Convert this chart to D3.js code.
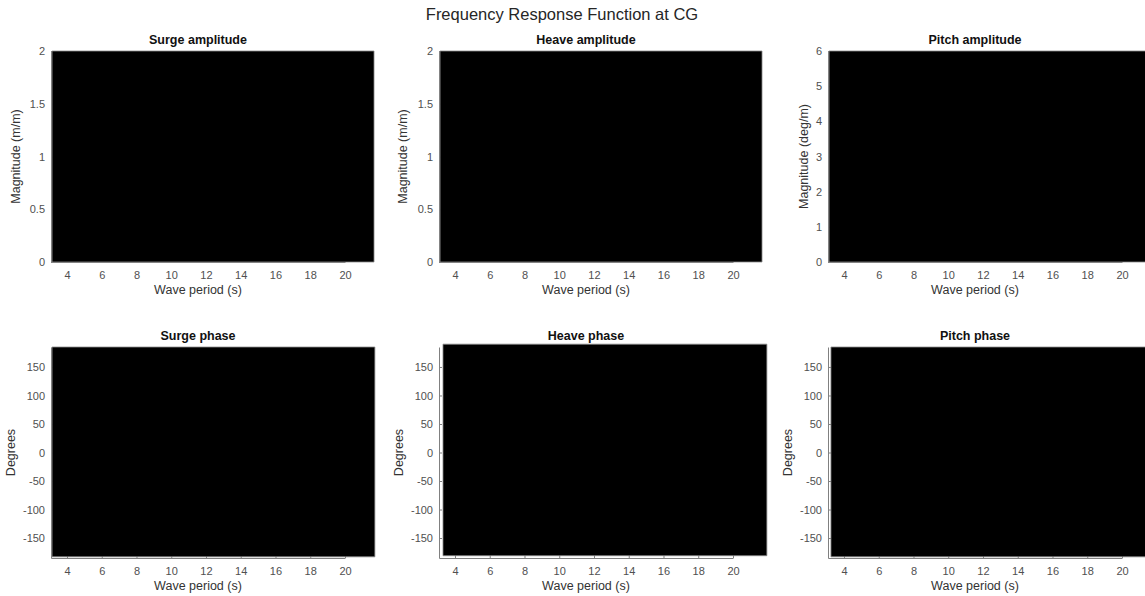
<!DOCTYPE html>
<html>
<head>
<meta charset="utf-8">
<script src="https://cdn.jsdelivr.net/npm/d3@7"></script>
<style>
    body { margin: 0; background: #fff; }
    svg { display: block; font-family: "Liberation Sans", Arial, sans-serif; }
</style>
</head>
<body>
<script>
'use strict';

// --- data ---
var figureTitle = 'Frequency Response Function at CG';
var panelTitles = ['Surge amplitude', 'Heave amplitude', 'Pitch amplitude',
    'Surge phase', 'Heave phase', 'Pitch phase'];
var yLabels = ['Magnitude (m/m)', 'Magnitude (m/m)', 'Magnitude (deg/m)',
    'Degrees', 'Degrees', 'Degrees'];
var xLabel = 'Wave period (s)';

var periodLimits = [3.08, 20];
var periodTicks = [4, 6, 8, 10, 12, 14, 16, 18, 20];

var yLimits = [[0, 2], [0, 2], [0, 6], [-185, 185], [-185, 185], [-185, 185]];
var yTicks = [
    [0, 0.5, 1, 1.5, 2],
    [0, 0.5, 1, 1.5, 2],
    [0, 1, 2, 3, 4, 5, 6],
    [-150, -100, -50, 0, 50, 100, 150],
    [-150, -100, -50, 0, 50, 100, 150],
    [-150, -100, -50, 0, 50, 100, 150]
];

// response envelope of each panel (filled black in the figure)
var bandPeriodStart = [3.14, 3.14, 3.14, 3.14, 3.31, 3.25];
var bandPeriodEnd = [21.67, 21.67, 21.67, 21.72, 21.95, 21.95];
var bandUpper = [2, 2, 6, 185, 190, 185];
var bandLower = [0, 0, 0, -183, -181, -183];

// --- layout ---
var width = 1145;
var height = 596;
var columnLeft = [51, 439, 828];
var rowTop = [51, 347];
var plotWidth = 294;
var plotHeight = 211;
var yLabelOffset = [31, 32, 20, 36, 36, 36];

// plain numbers with a hyphen minus, like the original figure
var tickText = function (d) { return String(d); };

var svg = d3.select('body').append('svg')
    .attr('width', width)
    .attr('height', height);

svg.append('rect')
    .attr('width', width)
    .attr('height', height)
    .attr('fill', '#fff');

svg.append('text')
    .attr('x', 562)
    .attr('y', 20)
    .attr('text-anchor', 'middle')
    .attr('font-size', 16.5)
    .attr('fill', '#262626')
    .text(figureTitle);

panelTitles.forEach(function (title, i) {
    var left = columnLeft[i % 3];
    var top = rowTop[Math.floor(i / 3)];

    var x = d3.scaleLinear().domain(periodLimits).range([0, plotWidth]);
    var y = d3.scaleLinear().domain(yLimits[i]).range([plotHeight, 0]);

    var g = svg.append('g').attr('transform', 'translate(' + left + ',' + top + ')');

    var xAxis = g.append('g')
        .attr('transform', 'translate(0,' + plotHeight + ')')
        .call(d3.axisBottom(x).tickValues(periodTicks).tickFormat(tickText)
            .tickSizeInner(-3).tickSizeOuter(0).tickPadding(9));

    var yAxis = g.append('g')
        .call(d3.axisLeft(y).tickValues(yTicks[i]).tickFormat(tickText)
            .tickSizeInner(-3).tickSizeOuter(0).tickPadding(6));

    [xAxis, yAxis].forEach(function (axis) {
        axis.attr('font-family', null).attr('font-size', 11);
        axis.select('.domain').attr('stroke', '#808080');
        axis.selectAll('.tick line').attr('stroke', '#808080');
        axis.selectAll('.tick text').attr('fill', '#505050');
    });

    var band = [
        { period: bandPeriodStart[i], upper: bandUpper[i], lower: bandLower[i] },
        { period: bandPeriodEnd[i], upper: bandUpper[i], lower: bandLower[i] }
    ];

    var area = d3.area()
        .x(function (d) { return x(d.period); })
        .y0(function (d) { return y(d.lower); })
        .y1(function (d) { return y(d.upper); });

    g.append('path')
        .datum(band)
        .attr('d', area)
        .attr('fill', '#000')
        .attr('stroke', '#8a8a8a')
        .attr('stroke-width', 0.8);

    g.append('text')
        .attr('x', plotWidth / 2)
        .attr('y', -7)
        .attr('text-anchor', 'middle')
        .attr('font-size', 12.5)
        .attr('font-weight', 'bold')
        .attr('fill', '#111')
        .text(title);

    g.append('text')
        .attr('x', plotWidth / 2)
        .attr('y', plotHeight + 32)
        .attr('text-anchor', 'middle')
        .attr('font-size', 12.5)
        .attr('fill', '#333')
        .text(xLabel);

    g.append('text')
        .attr('transform', 'translate(' + (-yLabelOffset[i]) + ',' + (plotHeight / 2) + ') rotate(-90)')
        .attr('text-anchor', 'middle')
        .attr('font-size', 12.5)
        .attr('fill', '#333')
        .text(yLabels[i]);
});
</script>
</body>
</html>
